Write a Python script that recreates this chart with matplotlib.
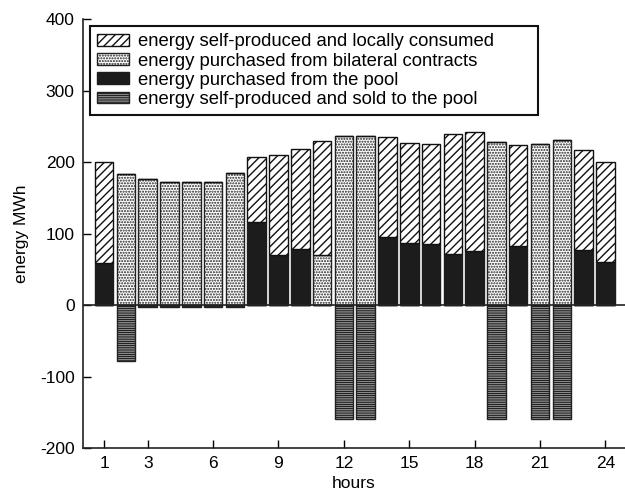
import matplotlib
matplotlib.use('Agg')
import matplotlib.pyplot as plt
import numpy as np

# ============================================
# DATA
# ============================================
hours = np.arange(1, 25)
pool = [59, 0, 0, 0, 0, 0, 0, 117, 70, 79, 0, 0, 0, 96, 87, 86, 71, 76, 0, 83, 0, 0, 77, 60]
bilateral = [0, 184, 177, 173, 172, 173, 185, 0, 0, 0, 70, 237, 237, 0, 0, 0, 0, 0, 229, 0, 226, 231, 0, 0]
self_local = [141, 0, 0, 0, 0, 0, 0, 91, 140, 140, 160, 0, 0, 140, 140, 140, 168, 167, 0, 141, 0, 0, 140, 141]
sold_pool = [0, -78, -2, -2, -2, -2, -2, 0, 0, 0, 0, -160, -160, 0, 0, 0, 0, 0, -160, 0, -160, -160, 0, 0]
xticks = [1, 3, 6, 9, 12, 15, 18, 21, 24]
yticks = [-200, -100, 0, 100, 200, 300, 400]
labels = ['energy self-produced and locally consumed',
          'energy purchased from bilateral contracts',
          'energy purchased from the pool',
          'energy self-produced and sold to the pool']

# ============================================
# STYLE
# ============================================
plt.rcParams['font.family'] = ['Liberation Sans', 'DejaVu Sans']
plt.rcParams['hatch.linewidth'] = 1.0
plt.rcParams['axes.unicode_minus'] = False
FS = 12.5
FS_LEG = 13.3
W = 0.85

fig = plt.figure(figsize=(6.25, 4.92), dpi=100)
ax = fig.add_axes([83 / 625, 44 / 492, 1 - 83 / 625, (448 - 19.5) / 492])

pool = np.array(pool)
bilateral = np.array(bilateral)
base = pool + bilateral

ax.bar(hours, pool, W, color='#1c1c1c', edgecolor='#1c1c1c', linewidth=1, label=labels[2])
ax.bar(hours, bilateral, W, color='white', edgecolor='#222222', hatch='......', linewidth=1, label=labels[1])
ax.bar(hours, self_local, W, bottom=base, color='white', edgecolor='#111111', hatch='////', linewidth=1,
       label=labels[0])
ax.bar(hours, sold_pool, W, color='white', edgecolor='#222222', hatch='---------', linewidth=1, label=labels[3])

ax.axhline(0, color='#222222', linewidth=1.2, zorder=5)

ax.set_xlim(0.03, 24.9)
ax.set_ylim(-200, 400)
ax.set_xticks(xticks)
ax.set_yticks(yticks)
ax.tick_params(direction='in', length=6, width=1, labelsize=FS, pad=6)
ax.spines['top'].set_visible(False)
ax.spines['right'].set_visible(False)
for s in ['left', 'bottom']:
    ax.spines[s].set_linewidth(1.2)
    ax.spines[s].set_color('#222222')

ax.set_xlabel('hours', fontsize=FS, labelpad=3)
ax.set_ylabel('energy MWh', fontsize=FS, labelpad=8)

# legend box: x 90..538 px, top at 26 px
handles, labs = ax.get_legend_handles_labels()
order = [labs.index(l) for l in labels]
leg = ax.legend([handles[i] for i in order], [labs[i] for i in order],
                loc='upper left', mode='expand',
                bbox_to_anchor=(90 / 625, 1 - 113 / 492, (538 - 90) / 625, 87 / 492),
                bbox_transform=fig.transFigure,
                fontsize=FS_LEG, fancybox=False, framealpha=1, edgecolor='#111111', borderaxespad=0,
                labelspacing=0.12, handlelength=1.7, handleheight=0.6, handletextpad=0.5,
                borderpad=0.4)
leg.get_frame().set_linewidth(1.5)

plt.savefig('out.png', dpi=100, facecolor='white')
plt.close()
